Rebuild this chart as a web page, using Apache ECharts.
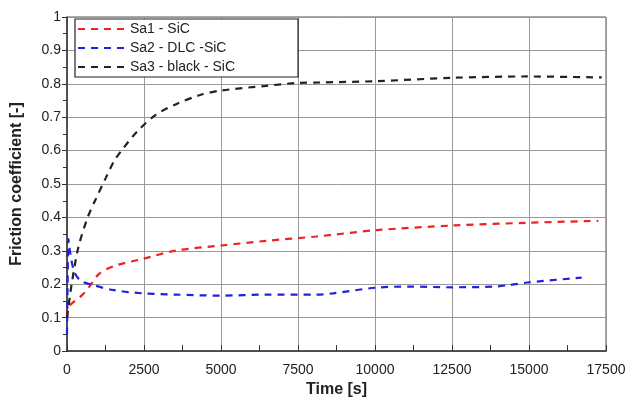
<!DOCTYPE html>
<html>
<head>
<meta charset="utf-8">
<script src="https://cdn.jsdelivr.net/npm/echarts@6/dist/echarts.min.js"></script>
<style>
    html, body { margin: 0; padding: 0; background: #fff; }
    #container { width: 629px; height: 403px; }
</style>
</head>
<body>
<div id="container"></div>
<script>
    // 读图得到的数据
    var seriesNames = ['Sa1 - SiC', 'Sa2 - DLC -SiC', 'Sa3 - black - SiC'];
    var seriesColors = ['#ee2222', '#2222dd', '#222222'];

    var timeSa1 = [0, 30, 240, 507, 725, 1050, 1538, 2458, 3543, 5006, 6470, 8095, 10045, 12535, 14920, 17250];
    var valSa1  = [0.10, 0.13, 0.149, 0.169, 0.193, 0.232, 0.255, 0.276, 0.301, 0.316, 0.33, 0.343, 0.362, 0.376, 0.384, 0.39];

    var timeSa2 = [0, 20, 50, 100, 237, 455, 833, 1482, 2458, 3543, 5006, 6470, 8095, 8635, 10045, 11128, 12535, 13836, 14380, 15030, 16710];
    var valSa2  = [0.05, 0.2, 0.335, 0.296, 0.237, 0.21, 0.198, 0.183, 0.173, 0.169, 0.166, 0.169, 0.169, 0.173, 0.19, 0.193, 0.191, 0.193, 0.198, 0.206, 0.22];

    var timeSa3 = [0, 150, 367, 670, 910, 1268, 1538, 1808, 2295, 2893, 3543, 4300, 5006, 6470, 7550, 8200, 10045, 12535, 14920, 17360];
    var valSa3  = [0.1, 0.2, 0.31, 0.40, 0.45, 0.52, 0.57, 0.605, 0.659, 0.708, 0.739, 0.766, 0.78, 0.794, 0.803, 0.804, 0.808, 0.818, 0.822, 0.819];

    function pairs(xs, ys) {
        var out = [];
        for (var i = 0; i < xs.length; i++) out.push([xs[i], ys[i]]);
        return out;
    }
    var allTimes = [timeSa1, timeSa2, timeSa3];
    var allVals = [valSa1, valSa2, valSa3];

    var fontName = 'Liberation Sans';
    var series = [];
    for (var k = 0; k < 3; k++) {
        series.push({
            name: seriesNames[k],
            type: 'line',
            smooth: 0.3,
            symbol: 'none',
            data: pairs(allTimes[k], allVals[k]),
            lineStyle: { color: seriesColors[k], width: 2.2, type: [7, 6] },
            itemStyle: { color: seriesColors[k] }
        });
    }

    var myChart = echarts.init(document.getElementById('container'));
    var option = {
        animation: false,
        backgroundColor: '#fff',
        textStyle: { fontFamily: fontName },
        grid: {
            left: 67, right: 23, top: 17, bottom: 46,
            show: true, borderColor: '#555', borderWidth: 1
        },
        legend: {
            orient: 'vertical',
            left: 75, top: 19,
            data: seriesNames,
            itemWidth: 50, itemHeight: 14, itemGap: 5,
            padding: [3, 63, 3, 2],
            borderColor: '#222', borderWidth: 1.2,
            backgroundColor: '#fff',
            itemStyle: { opacity: 0 },
            textStyle: { fontFamily: fontName, fontSize: 14, color: '#222', padding: [0, 0, 0, -3] }
        },
        xAxis: {
            type: 'value',
            min: 0, max: 17500, interval: 2500,
            name: 'Time [s]',
            nameLocation: 'middle',
            nameGap: 22,
            nameTextStyle: { fontSize: 16, fontWeight: 'bold', color: '#222', fontFamily: fontName },
            axisLine: { lineStyle: { color: '#333', width: 1.5 } },
            axisTick: { inside: true, length: 6, lineStyle: { color: '#333' } },
            minorTick: { show: true, splitNumber: 2, length: 6, lineStyle: { color: '#333' } },
            axisLabel: { fontSize: 14, color: '#222', margin: 12, fontFamily: fontName,
                formatter: function (v) { return String(v); } },
            splitLine: { show: true, lineStyle: { color: '#999', width: 1 } }
        },
        yAxis: [{
            type: 'value',
            min: 0, max: 1, interval: 0.1,
            name: 'Friction coefficient [-]',
            nameLocation: 'middle',
            nameGap: 42,
            nameTextStyle: { fontSize: 16, fontWeight: 'bold', color: '#222', fontFamily: fontName },
            axisLine: { show: true, lineStyle: { color: '#333', width: 1.5 } },
            axisTick: { show: true, length: 5, lineStyle: { color: '#333' } },
            minorTick: { show: true, splitNumber: 2, length: 4, lineStyle: { color: '#333' } },
            axisLabel: { fontSize: 14, color: '#222', margin: 6, fontFamily: fontName },
            splitLine: { show: true, lineStyle: { color: '#999', width: 1 } }
        }, {
            type: 'value',
            position: 'left',
            min: 0, max: 1, interval: 0.1,
            axisLine: { show: false },
            axisTick: { show: false },
            minorTick: { show: true, splitNumber: 2, length: 4, lineStyle: { color: '#333' } },
            axisLabel: { show: false },
            splitLine: { show: false }
        }],
        series: series
    };
    myChart.setOption(option);
</script>
</body>
</html>
